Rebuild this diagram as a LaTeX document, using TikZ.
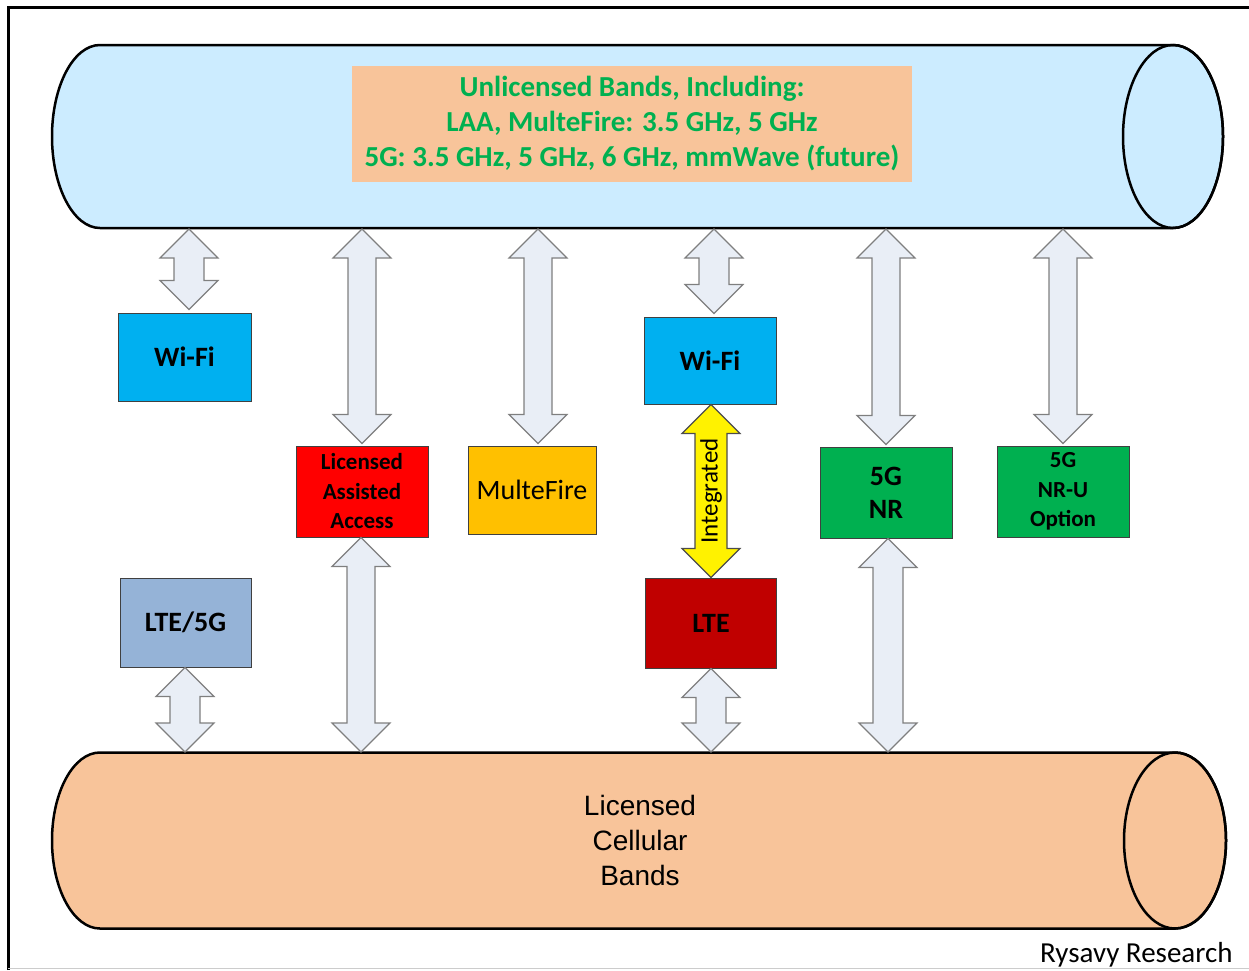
\documentclass[tikz,border=0pt]{standalone}
\usepackage{fontspec}
\setmainfont{Carlito}
\newfontfamily\arialf{Liberation Sans}
\usetikzlibrary{calc}
\definecolor{skyfill}{HTML}{CCECFF}
\definecolor{peach}{HTML}{F8C49A}
\definecolor{xlgreen}{HTML}{00B050}
\definecolor{wifiblue}{HTML}{00B0F0}
\definecolor{laared}{HTML}{FF0000}
\definecolor{mfgold}{HTML}{FFC000}
\definecolor{ltered}{HTML}{C00000}
\definecolor{steel}{HTML}{95B3D7}
\definecolor{arrowfill}{HTML}{E9EEF6}
\definecolor{arrowline}{HTML}{7F7F7F}
\newcommand\blockarrow[5]{%
  \path[#1] let \p1=(#2), \p2=(#3), \p3=(#4) in
    (\x3,\y1) -- (\x3+29pt,\y1-29pt) -- (\x3+#5,\y1-29pt) -- (\x3+#5,\y2+29pt)
    -- (\x3+29pt,\y2+29pt) -- (\x3,\y2) -- (\x3-29pt,\y2+29pt) -- (\x3-#5,\y2+29pt)
    -- (\x3-#5,\y1-29pt) -- (\x3-29pt,\y1-29pt) -- cycle;}
\begin{document}
\begin{tikzpicture}[x=1pt,y=-1pt,
  cyl/.style={draw=black, line width=2.5pt},
  techbox/.style={draw=black!75, line width=1pt, minimum width=132pt, minimum height=89pt,
    inner sep=0pt, align=center, font=\fontsize{28}{33}\selectfont\bfseries},
  smalltext/.style={font=\fontsize{23}{29.5}\selectfont\bfseries},
  grayarrow/.style={fill=arrowfill, draw=arrowline, line width=1.2pt, line join=miter},
  yellowarrow/.style={fill=yellow, draw=black!70, line width=1.2pt, line join=miter}]
\useasboundingbox (0,0) rectangle (1249,970);
% frame
\draw[line width=3pt] (8.5,970) -- (8.5,7.5) -- (1249,7.5);
\draw[black!20, line width=1pt] (8,968.5) -- (1249,968.5);
% top cylinder
\draw[cyl, fill=skyfill] (100,45) -- (1173,45)
  arc[start angle=90, end angle=-90, x radius=50pt, y radius=91.5pt]
  -- (100,228) arc[start angle=270, end angle=90, x radius=48pt, y radius=91.5pt] -- cycle;
\draw[cyl] (1173,136.5) ellipse[x radius=50pt, y radius=91.5pt];
\node[fill=peach, minimum width=560pt, minimum height=116pt, inner sep=0pt, align=center,
  text=xlgreen, font=\fontsize{29}{35}\selectfont\bfseries] (unlic) at (632,124)
  {Unlicensed Bands, Including:\\LAA, MulteFire: 3.5 GHz, 5 GHz\\5G: 3.5 GHz, 5 GHz, 6 GHz, mmWave (future)};
% bottom cylinder
\draw[cyl, fill=peach] (100,752.5) -- (1175,752.5)
  arc[start angle=90, end angle=-90, x radius=51pt, y radius=88pt]
  -- (100,928.5) arc[start angle=270, end angle=90, x radius=48pt, y radius=88pt] -- cycle;
\draw[cyl] (1175,840.5) ellipse[x radius=51pt, y radius=88pt];
\node[align=center, font=\arialf\fontsize{28}{35}\selectfont] (lic) at (640,840) {Licensed\\Cellular\\Bands};
\node[anchor=east, font=\fontsize{29}{29}\selectfont] (credit) at (1236,955) {Rysavy Research};
% boxes
\node[techbox, fill=wifiblue, minimum width=133pt, minimum height=88pt] (wifiL) at (184.5,357) {Wi-Fi};
\node[techbox, smalltext, fill=laared, minimum height=91pt] (laa) at (362,491.5) {Licensed\\Assisted\\Access};
\node[techbox, fill=mfgold, minimum width=128pt, minimum height=88pt, font=\fontsize{28}{33}\selectfont] (mf) at (532,490) {MulteFire};
\node[techbox, fill=wifiblue, minimum height=87pt] (wifiM) at (710,360.5) {Wi-Fi};
\node[techbox, fill=ltered, minimum width=131pt, minimum height=90pt] (lte) at (711,623) {LTE};
\node[techbox, fill=xlgreen, minimum height=91pt] (nr) at (886,492.5) {5G\\NR};
\node[techbox, smalltext, fill=xlgreen, minimum height=91pt] (nru) at (1063,491.5) {5G\\NR-U\\Option};
\node[techbox, fill=steel, minimum width=131pt] (lte5g) at (185.5,622.5) {LTE/5G};
% arrow anchor points on the cylinders
\coordinate (ta) at (189,229);
\coordinate (tb) at (362,229);
\coordinate (tc) at (538,229);
\coordinate (td) at (714,229);
\coordinate (te) at (886,229);
\coordinate (tf) at (1063,229);
\coordinate (bg) at (361,752);
\coordinate (bh) at (185,752);
\coordinate (bi) at (711,752);
\coordinate (bj) at (888,752);
% arrows
\blockarrow{grayarrow}{ta}{$(wifiL.north)+(0,-3)$}{ta}{15pt}
\blockarrow{grayarrow}{tb}{$(laa.north)+(0,-2)$}{tb}{14pt}
\blockarrow{grayarrow}{tc}{$(mf.north)+(0,-2)$}{tc}{14pt}
\blockarrow{grayarrow}{td}{$(wifiM.north)+(0,-3)$}{td}{15pt}
\blockarrow{grayarrow}{te}{$(nr.north)+(0,-2)$}{te}{14pt}
\blockarrow{grayarrow}{tf}{$(nru.north)+(0,-2)$}{tf}{14pt}
\blockarrow{grayarrow}{laa.south}{bg}{bg}{14pt}
\blockarrow{grayarrow}{lte5g.south}{bh}{bh}{15pt}
\blockarrow{grayarrow}{lte.south}{bi}{bi}{15pt}
\blockarrow{grayarrow}{nr.south}{bj}{bj}{15pt}
\blockarrow{yellowarrow}{wifiM.south}{lte.north}{lte}{16pt}
\node[rotate=90, font=\fontsize{25}{25}\selectfont] (integ) at (711,491) {Integrated};
\end{tikzpicture}
\end{document}
